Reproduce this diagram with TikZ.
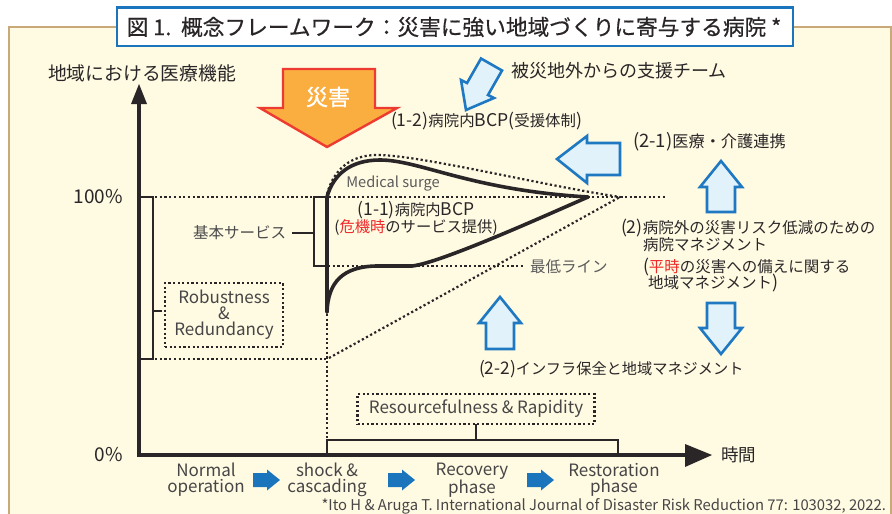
\documentclass[tikz,border=0pt]{standalone}
\usepackage{fontspec}
\setmainfont{Noto Sans CJK JP}
\newfontfamily\titlefont[FakeBold=0.6]{Noto Sans CJK JP}
\newfontfamily\boldjp[FakeBold=1.2]{Noto Sans CJK JP}
\makeatletter
\newcommand\lt[1]{{\@tempdima=\f@size pt\@tempdima=1.14\@tempdima
  \edef\ltsize{\strip@pt\@tempdima}\fontsize{\ltsize}{\f@baselineskip}\selectfont #1}}
\makeatother
\definecolor{panel}{HTML}{FFFAE2}
\definecolor{panelline}{HTML}{C9A87A}
\definecolor{titleblue}{HTML}{1B75BC}
\definecolor{txt}{HTML}{2A2627}
\definecolor{graytxt}{HTML}{5A5A5A}
\definecolor{lightblue}{HTML}{E1F2FB}
\definecolor{arrowblue}{HTML}{1E78C2}
\definecolor{orangefill}{HTML}{FAAE40}
\definecolor{orangeline}{HTML}{EE3B32}
\definecolor{redtxt}{HTML}{EE2A2A}
\begin{document}
\begin{tikzpicture}[x=1pt,y=-1pt,
  every node/.style={inner sep=0pt, outer sep=0pt, text=txt},
  fs/.style={font=\fontsize{#1}{#1}\selectfont},
  fsl/.style={font=\fontsize{#1}{16}\selectfont},
  axisline/.style={line width=4.5pt, draw=txt},
  bracket/.style={line width=2pt, draw=txt},
  dotline/.style={line width=2.2pt, draw=txt, dash pattern=on 2.2pt off 2.5pt},
  dotbox/.style={line width=2.2pt, draw=txt, dash pattern=on 2.2pt off 2.4pt},
  curve/.style={line width=3.6pt, draw=txt, line cap=round, line join=round},
  outarrow/.style={line width=2.6pt, draw=arrowblue, fill=lightblue, line join=miter},
  solidarrow/.style={fill=titleblue, draw=none},
  enlabel/.style={text=graytxt!60!txt}
]
\path[use as bounding box] (0,0) rectangle (892,514);
% panel
\draw[panelline, fill=panel, line width=1.5pt] (9,27) rectangle (891,530);
% title
\draw[titleblue, fill=white, line width=2.6pt] (117,7.5) rectangle (793,46);
\node[font=\titlefont\fontsize{21.7}{24}\selectfont] (title) at (454,27) {図 1.\ \ 概念フレームワーク：災害に強い地域づくりに寄与する病院 *};

% axes
\coordinate (O) at (139,455);
\coordinate (Ytop) at (139,84);
\coordinate (Xend) at (712,455);
\draw[axisline] (O) -- (139,100);
\fill[txt] (Ytop) -- (147,104) -- (131,104) -- cycle;
\draw[axisline] (137,455) -- (688,455);
\fill[txt] (Xend) -- (685,444) -- (685,467) -- cycle;

\node[fs=18.8] (ylab) at (142,73) {地域における医療機能};
\node[fs=19, anchor=east] (p100) at (123,197) {100\%};
\node[fs=19, anchor=east] (p0) at (123,455) {0\%};
\node[fs=17.5, anchor=west] (time) at (721,455) {時間};

% left bracket
\draw[bracket] (141,197) -- (153,197) -- (153,359) -- (141,359);
\draw[bracket] (153,311) -- (162,311);
\node[dotbox, minimum width=118, minimum height=64, fsl=17, align=center, enlabel] (robust) at (224,315) {Robustness\\\&\\Redundancy};

% dotted guide lines
\draw[dotline] (155,197) -- (665,197);
\draw[dotline] (155,359) -- (327,359);
\draw[dotline] (328,266) -- (523,266);
\draw[dotline] (327,314) -- (327,440);
% dotted envelope
\draw[dotline] (327,194) .. controls (334,168) and (352,155) .. (377,155) .. controls (420,155) and (540,185) .. (620,197);
\draw[dotline] (329,358) -- (620,197);

% inner bracket
\draw[bracket] (327,197) -- (314,197) -- (314,266) -- (327,266);
\draw[bracket] (292,233) -- (314,233);
\node[fs=15.5, anchor=east, text=graytxt!70!txt] (kihon) at (286,233) {基本サービス};

% main curve
\draw[curve] (327,312) -- (327,197) .. controls (333,175) and (350,160) .. (380,160) .. controls (420,160) and (470,190) .. (588,197);
\draw[curve] (327,312) .. controls (328,283) and (342,266) .. (378,266) -- (412,266) .. controls (440,263) and (540,218) .. (588,197);

\node[fs=14.6, text=graytxt] (surge) at (393,184) {Medical surge};
\node[font=\fontsize{15.3}{17}\selectfont, align=center] (bcp11) at (416,218) {\lt{(1-1)}病院内\lt{BCP}\\(\textcolor{redtxt}{危機時}のサービス提供)};
\node[fs=15.5, anchor=west, text=graytxt] (minline) at (530,267) {最低ライン};

% disaster arrow
\draw[orangeline, fill=orangefill, line width=2.4pt, line join=miter] (283,69) -- (375,69) -- (375,108) -- (397,108) -- (327,147) -- (260,108) -- (283,108) -- cycle;
\node[font=\boldjp\fontsize{22}{24}\selectfont, text=white] (saigai) at (328,97) {災害};

% outside support arrow (diagonal)
\draw[outarrow] (466,110) -- (461,80) -- (467,83) -- (481,58.5) -- (502,70.5) -- (488,95) -- (494,98) -- cycle;
\node[fs=18, anchor=west] (support) at (511,71) {被災地外からの支援チーム};
\node[fs=15.4, anchor=west] (bcp12) at (391,121) {\lt{(1-2)}病院内\lt{BCP}\lt{(}受援体制\lt{)}};

% (2-1) left arrow
\draw[outarrow] (557,159) -- (587,136) -- (587,143) -- (620,143) -- (620,175) -- (587,175) -- (587,183) -- cycle;
\node[fs=16.2, anchor=west] (t21) at (633,142) {\lt{(2-1)}医療・介護連携};

% up arrow right
\draw[outarrow] (721,161) -- (742,187) -- (735,187) -- (735,212) -- (707,212) -- (707,187) -- (700,187) -- cycle;
% down arrow right
\draw[outarrow] (721,354) -- (742,328) -- (735,328) -- (735,303) -- (707,303) -- (707,328) -- (700,328) -- cycle;
% up arrow middle
\draw[outarrow] (500,297) -- (521,323) -- (514,323) -- (514,349) -- (486,349) -- (486,323) -- (479,323) -- cycle;

\node[fs=15.5, anchor=west] (t2a) at (621,228) {\lt{(2)}病院外の災害リスク低減のための};
\node[fs=15.5, anchor=west] (t2b) at (643,245) {病院マネジメント};
\node[fs=15.5, anchor=west] (t2c) at (643,267) {\lt{(}\textcolor{redtxt}{平時}の災害への備えに関する};
\node[fs=15.5, anchor=west] (t2d) at (648,283) {地域マネジメント\lt{)}};
\node[fs=15.2, anchor=west] (t22) at (479,369) {\lt{(2-2)}インフラ保全と地域マネジメント};

% resourcefulness
\node[dotbox, minimum width=237, minimum height=30, fs=17, enlabel] (resource) at (476,409) {Resourcefulness \& Rapidity};
\draw[bracket] (327,455) -- (327,440) -- (618,440) -- (618,455);
\draw[bracket] (resource.south) -- (476,440);

% phases
\node[fsl=17, align=center, enlabel] (ph1) at (206,480) {Normal\\operation};
\node[fsl=17, align=center, enlabel] (ph2) at (327,480) {shock \&\\cascading};
\node[fsl=17, align=center, enlabel] (ph3) at (472,480) {Recovery\\phase};
\node[fsl=17, align=center, enlabel] (ph4) at (614,480) {Restoration\\phase};
\fill[solidarrow] (253,473) -- (267,473) -- (267,469.5) -- (280,480) -- (267,490.5) -- (267,487) -- (253,487) -- cycle;
\fill[solidarrow] (388,473) -- (402,473) -- (402,469.5) -- (415,480) -- (402,490.5) -- (402,487) -- (388,487) -- cycle;
\fill[solidarrow] (527,473) -- (541,473) -- (541,469.5) -- (554,480) -- (541,490.5) -- (541,487) -- (527,487) -- cycle;

\node[fs=14.8, anchor=east, enlabel] (cite) at (886,506) {*Ito H \& Aruga T. International Journal of Disaster Risk Reduction 77: 103032, 2022.};
\end{tikzpicture}
\end{document}
